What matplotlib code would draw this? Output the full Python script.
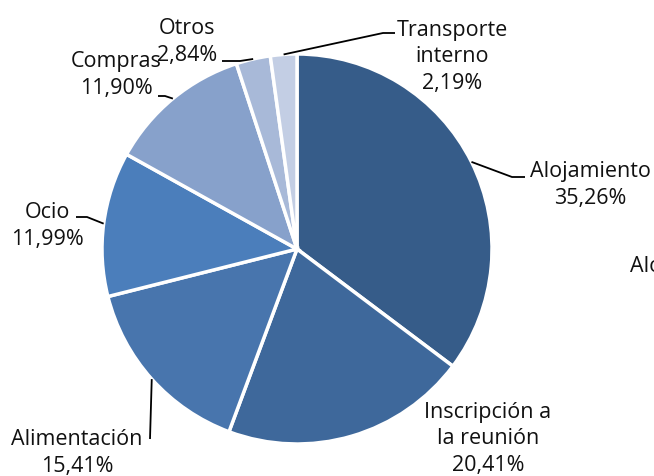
import matplotlib.pyplot as plt
import numpy as np

# gasto por concepto (%)
categories = ['Alojamiento', 'Inscripción a\nla reunión', 'Alimentación', 'Ocio',
              'Compras', 'Otros', 'Transporte\ninterno']
values = [35.26, 20.41, 15.41, 11.99, 11.90, 2.84, 2.19]
labels = ['35,26%', '20,41%', '15,41%', '11,99%', '11,90%', '2,84%', '2,19%']
colors = ['#365c89', '#3e689b', '#4875ad', '#4b7ebb', '#87a1cb', '#a8b9d8', '#c3cee4']

W, H = 654, 477
fig = plt.figure(figsize=(W / 100, H / 100), dpi=100)
ax = fig.add_axes([0, 0, 1, 1])

plt.rcParams['font.family'] = ['Open Sans', 'DejaVu Sans']
FS, LS = 15.5, 1.32

cx, cy, r = 297, H - 250, 195
explode = [0.015, 0, 0, 0, 0, 0, 0]
ax.pie(values, colors=colors, startangle=90, counterclock=False,
       center=(cx, cy), radius=r, explode=explode,
       wedgeprops=dict(edgecolor='white', linewidth=2.5))

# ejes en píxeles (después de pie, que cambia los límites)
ax.set_xlim(0, W)
ax.set_ylim(0, H)
ax.set_aspect('equal')
ax.axis('off')

# punto medio de cada porción sobre el borde
cum = np.cumsum([0] + values[:-1])
mid = np.deg2rad(90 - (cum + np.array(values) / 2) * 3.6)
edge = [(cx + r * np.cos(a), cy + r * np.sin(a)) for a in mid]

# posiciones de las etiquetas (px desde arriba)
label_pos = [(590, 185), (488, 439), (77, 453), (47, 226),
             (116, 75), (187, 42), (452, 57)]
# codos de las líneas guía
elbows = [[(512, 178), (525, 178)], None, [(150, 440)], [(87, 218), (76, 218)],
          [(165, 97), (158, 97)], [(240, 62), (222, 62)], [(383, 34), (395, 34)]]

for i, (cat, lab) in enumerate(zip(categories, labels)):
    x, y = label_pos[i]
    ax.text(x, H - y, cat + '\n' + lab, ha='center', va='center',
            fontsize=FS, linespacing=LS, color='#111111')
    if elbows[i] is not None:
        pts = [edge[i]] + [(px, H - py) for px, py in elbows[i]]
        xs, ys = zip(*pts)
        ax.plot(xs, ys, color='black', linewidth=1.3, solid_capstyle='butt')

# copia recortada en el borde derecho
ax.text(690, H - 280, categories[0] + '\n' + labels[0], ha='center', va='center',
        fontsize=FS, linespacing=LS, color='#111111', clip_on=False)

fig.savefig('out.png', dpi=100)
